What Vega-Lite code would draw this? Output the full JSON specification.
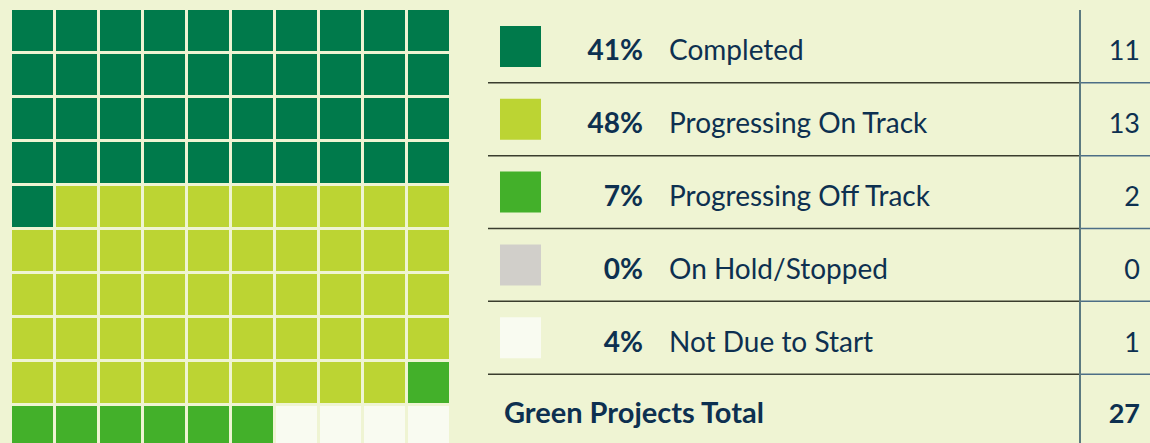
{
  "$schema": "https://vega.github.io/schema/vega-lite/v6.json",
  "background": "#eff4d3",
  "padding": {"left": 12, "top": 9, "right": 0, "bottom": 0},
  "spacing": 38,
  "config": {"view": {"stroke": null}, "font": "Lato", "text": {"font": "Lato"}},
  "datasets": {
    "cells": [
      {"row":0,"col":0,"status":"Completed"},{"row":0,"col":1,"status":"Completed"},{"row":0,"col":2,"status":"Completed"},{"row":0,"col":3,"status":"Completed"},{"row":0,"col":4,"status":"Completed"},{"row":0,"col":5,"status":"Completed"},{"row":0,"col":6,"status":"Completed"},{"row":0,"col":7,"status":"Completed"},{"row":0,"col":8,"status":"Completed"},{"row":0,"col":9,"status":"Completed"},
      {"row":1,"col":0,"status":"Completed"},{"row":1,"col":1,"status":"Completed"},{"row":1,"col":2,"status":"Completed"},{"row":1,"col":3,"status":"Completed"},{"row":1,"col":4,"status":"Completed"},{"row":1,"col":5,"status":"Completed"},{"row":1,"col":6,"status":"Completed"},{"row":1,"col":7,"status":"Completed"},{"row":1,"col":8,"status":"Completed"},{"row":1,"col":9,"status":"Completed"},
      {"row":2,"col":0,"status":"Completed"},{"row":2,"col":1,"status":"Completed"},{"row":2,"col":2,"status":"Completed"},{"row":2,"col":3,"status":"Completed"},{"row":2,"col":4,"status":"Completed"},{"row":2,"col":5,"status":"Completed"},{"row":2,"col":6,"status":"Completed"},{"row":2,"col":7,"status":"Completed"},{"row":2,"col":8,"status":"Completed"},{"row":2,"col":9,"status":"Completed"},
      {"row":3,"col":0,"status":"Completed"},{"row":3,"col":1,"status":"Completed"},{"row":3,"col":2,"status":"Completed"},{"row":3,"col":3,"status":"Completed"},{"row":3,"col":4,"status":"Completed"},{"row":3,"col":5,"status":"Completed"},{"row":3,"col":6,"status":"Completed"},{"row":3,"col":7,"status":"Completed"},{"row":3,"col":8,"status":"Completed"},{"row":3,"col":9,"status":"Completed"},
      {"row":4,"col":0,"status":"Completed"},{"row":4,"col":1,"status":"Progressing On Track"},{"row":4,"col":2,"status":"Progressing On Track"},{"row":4,"col":3,"status":"Progressing On Track"},{"row":4,"col":4,"status":"Progressing On Track"},{"row":4,"col":5,"status":"Progressing On Track"},{"row":4,"col":6,"status":"Progressing On Track"},{"row":4,"col":7,"status":"Progressing On Track"},{"row":4,"col":8,"status":"Progressing On Track"},{"row":4,"col":9,"status":"Progressing On Track"},
      {"row":5,"col":0,"status":"Progressing On Track"},{"row":5,"col":1,"status":"Progressing On Track"},{"row":5,"col":2,"status":"Progressing On Track"},{"row":5,"col":3,"status":"Progressing On Track"},{"row":5,"col":4,"status":"Progressing On Track"},{"row":5,"col":5,"status":"Progressing On Track"},{"row":5,"col":6,"status":"Progressing On Track"},{"row":5,"col":7,"status":"Progressing On Track"},{"row":5,"col":8,"status":"Progressing On Track"},{"row":5,"col":9,"status":"Progressing On Track"},
      {"row":6,"col":0,"status":"Progressing On Track"},{"row":6,"col":1,"status":"Progressing On Track"},{"row":6,"col":2,"status":"Progressing On Track"},{"row":6,"col":3,"status":"Progressing On Track"},{"row":6,"col":4,"status":"Progressing On Track"},{"row":6,"col":5,"status":"Progressing On Track"},{"row":6,"col":6,"status":"Progressing On Track"},{"row":6,"col":7,"status":"Progressing On Track"},{"row":6,"col":8,"status":"Progressing On Track"},{"row":6,"col":9,"status":"Progressing On Track"},
      {"row":7,"col":0,"status":"Progressing On Track"},{"row":7,"col":1,"status":"Progressing On Track"},{"row":7,"col":2,"status":"Progressing On Track"},{"row":7,"col":3,"status":"Progressing On Track"},{"row":7,"col":4,"status":"Progressing On Track"},{"row":7,"col":5,"status":"Progressing On Track"},{"row":7,"col":6,"status":"Progressing On Track"},{"row":7,"col":7,"status":"Progressing On Track"},{"row":7,"col":8,"status":"Progressing On Track"},{"row":7,"col":9,"status":"Progressing On Track"},
      {"row":8,"col":0,"status":"Progressing On Track"},{"row":8,"col":1,"status":"Progressing On Track"},{"row":8,"col":2,"status":"Progressing On Track"},{"row":8,"col":3,"status":"Progressing On Track"},{"row":8,"col":4,"status":"Progressing On Track"},{"row":8,"col":5,"status":"Progressing On Track"},{"row":8,"col":6,"status":"Progressing On Track"},{"row":8,"col":7,"status":"Progressing On Track"},{"row":8,"col":8,"status":"Progressing On Track"},{"row":8,"col":9,"status":"Progressing Off Track"},
      {"row":9,"col":0,"status":"Progressing Off Track"},{"row":9,"col":1,"status":"Progressing Off Track"},{"row":9,"col":2,"status":"Progressing Off Track"},{"row":9,"col":3,"status":"Progressing Off Track"},{"row":9,"col":4,"status":"Progressing Off Track"},{"row":9,"col":5,"status":"Progressing Off Track"},{"row":9,"col":6,"status":"Not Due to Start"},{"row":9,"col":7,"status":"Not Due to Start"},{"row":9,"col":8,"status":"Not Due to Start"},{"row":9,"col":9,"status":"Not Due to Start"}
    ],
    "table": [
      {"row":0,"status":"Completed","pct":0.41,"count":11,"kind":"item"},
      {"row":1,"status":"Progressing On Track","pct":0.48,"count":13,"kind":"item"},
      {"row":2,"status":"Progressing Off Track","pct":0.07,"count":2,"kind":"item"},
      {"row":3,"status":"On Hold/Stopped","pct":0.0,"count":0,"kind":"item"},
      {"row":4,"status":"Not Due to Start","pct":0.04,"count":1,"kind":"item"},
      {"row":5,"status":"Green Projects Total","pct":null,"count":27,"kind":"total"}
    ]
  },
  "resolve": {"scale": {"color": "shared"}},
  "hconcat": [
    {
      "width": 437,
      "height": 437,
      "data": {"name": "cells"},
      "mark": {"type": "rect"},
      "encoding": {
        "x": {"field": "col", "type": "ordinal", "axis": null, "scale": {"paddingInner": 0.068, "paddingOuter": 0}},
        "y": {"field": "row", "type": "ordinal", "axis": null, "scale": {"paddingInner": 0.068, "paddingOuter": 0}},
        "color": {
          "field": "status", "type": "nominal", "legend": null,
          "scale": {
            "domain": ["Completed", "Progressing On Track", "Progressing Off Track", "On Hold/Stopped", "Not Due to Start"],
            "range": ["#007a4b", "#bcd433", "#43b02a", "#d1cfca", "#f9fbf1"]
          }
        }
      }
    },
    {
      "width": 663,
      "height": 437,
      "data": {"name": "table"},
      "encoding": {
        "y": {"field": "row", "type": "ordinal", "axis": null, "scale": {"paddingInner": 0, "paddingOuter": 0}}
      },
      "layer": [
        {
          "transform": [{"filter": "datum.row < 5"}],
          "mark": {"type": "rule", "stroke": "#3a3d2e", "strokeWidth": 1.5},
          "encoding": {
            "y": {"field": "row", "type": "ordinal", "bandPosition": 1},
            "x": {"value": 0},
            "x2": {"value": 592}
          }
        },
        {
          "transform": [{"filter": "datum.row < 5"}],
          "mark": {"type": "rule", "stroke": "#4d6e86", "strokeWidth": 1.5},
          "encoding": {
            "y": {"field": "row", "type": "ordinal", "bandPosition": 1},
            "x": {"value": 592},
            "x2": {"value": 663}
          }
        },
        {
          "mark": {"type": "rule", "stroke": "#5c7a80", "strokeWidth": 2},
          "encoding": {"x": {"value": 592}, "y": {"value": 0}, "y2": {"value": 440}}
        },
        {
          "transform": [{"filter": "datum.kind == 'item'"}],
          "mark": {"type": "square", "size": 1681, "opacity": 1, "filled": true},
          "encoding": {
            "x": {"value": 32.5},
            "color": {"field": "status", "type": "nominal", "legend": null}
          }
        },
        {
          "transform": [{"filter": "datum.kind == 'item'"}],
          "mark": {"type": "text", "align": "right", "baseline": "alphabetic", "fontSize": 28, "fontWeight": "bold", "color": "#0d3050", "dy": 14},
          "encoding": {
            "x": {"value": 155},
            "text": {"field": "pct", "type": "quantitative", "format": ".0%"}
          }
        },
        {
          "transform": [{"filter": "datum.kind == 'item'"}],
          "mark": {"type": "text", "align": "left", "baseline": "alphabetic", "fontSize": 28, "color": "#0d3050", "dy": 14},
          "encoding": {
            "x": {"value": 181},
            "text": {"field": "status", "type": "nominal"}
          }
        },
        {
          "transform": [{"filter": "datum.kind == 'item'"}],
          "mark": {"type": "text", "align": "right", "baseline": "alphabetic", "fontSize": 27, "color": "#0d3050", "dy": 14},
          "encoding": {
            "x": {"value": 652},
            "text": {"field": "count", "type": "quantitative"}
          }
        },
        {
          "transform": [{"filter": "datum.kind == 'total'"}],
          "mark": {"type": "text", "align": "left", "baseline": "alphabetic", "fontSize": 29, "fontWeight": "bold", "color": "#0d3050", "dy": 12},
          "encoding": {
            "x": {"value": 16},
            "text": {"field": "status", "type": "nominal"}
          }
        },
        {
          "transform": [{"filter": "datum.kind == 'total'"}],
          "mark": {"type": "text", "align": "right", "baseline": "alphabetic", "fontSize": 27, "fontWeight": "bold", "color": "#0d3050", "dy": 12},
          "encoding": {
            "x": {"value": 652},
            "text": {"field": "count", "type": "quantitative"}
          }
        }
      ]
    }
  ]
}
